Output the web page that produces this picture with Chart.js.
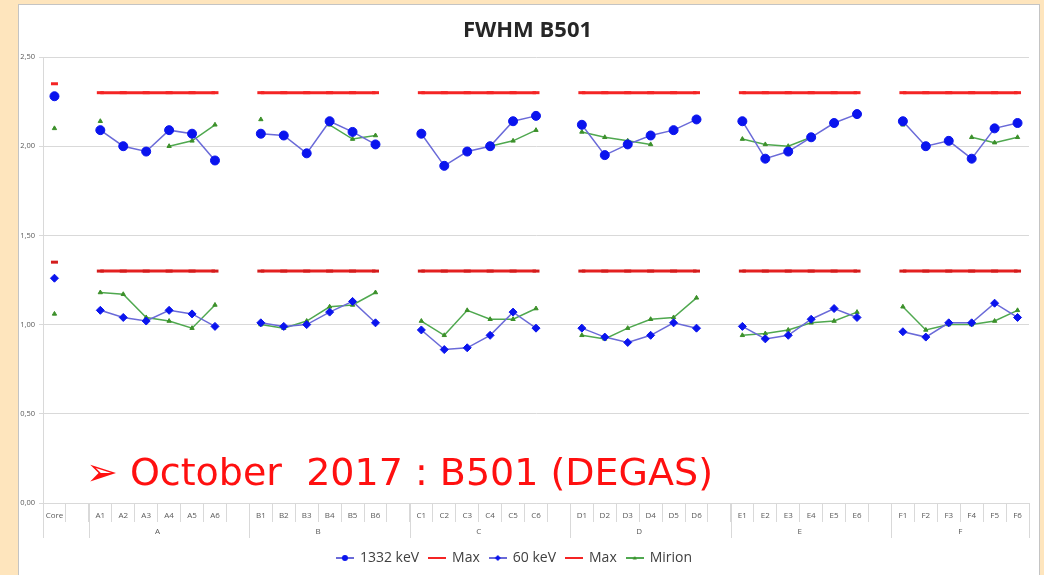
<!DOCTYPE html>
<html>
<head>
<meta charset="utf-8">
<script src="https://cdn.jsdelivr.net/npm/chart.js@4.4.1/dist/chart.umd.min.js"></script>
<style>
  html, body { margin: 0; padding: 0; }
  body { width: 1044px; height: 575px; background: #fee5bd; position: relative; overflow: hidden; font-family: "Open Sans", sans-serif; }
  #panel { position: absolute; left: 18px; top: 4px; width: 1022px; height: 590px; background: #fff; border: 1px solid #c4c4c4; box-sizing: border-box; }
  #chart { position: absolute; left: 0; top: 0; }
  #title { position: absolute; top: 13px; left: 0; width: 1055px; text-align: center; font-weight: bold; font-size: 22px; color: #262626; }
  #note { position: absolute; left: 86px; top: 450px; line-height: 44px; color: #ff1010; font-family: "DejaVu Sans", sans-serif; font-size: 38px; white-space: pre; }
</style>
</head>
<body>
<div id="panel"></div>
<canvas id="chart" width="1044" height="575"></canvas>
<div id="title">FWHM B501</div>
<div id="note">➢ October  2017 : B501 (DEGAS)</div>
<script>
// x categories (blank slots separate the groups)
const categories = ['Core', '',
  'A1', 'A2', 'A3', 'A4', 'A5', 'A6', '',
  'B1', 'B2', 'B3', 'B4', 'B5', 'B6', '',
  'C1', 'C2', 'C3', 'C4', 'C5', 'C6', '',
  'D1', 'D2', 'D3', 'D4', 'D5', 'D6', '',
  'E1', 'E2', 'E3', 'E4', 'E5', 'E6', '',
  'F1', 'F2', 'F3', 'F4', 'F5', 'F6'];
const groups = ['A', 'B', 'C', 'D', 'E', 'F'];
const yTicks = [0, 0.5, 1, 1.5, 2, 2.5];

const fwhm1332 = [2.28, null,
  2.09, 2.00, 1.97, 2.09, 2.07, 1.92, null,
  2.07, 2.06, 1.96, 2.14, 2.08, 2.01, null,
  2.07, 1.89, 1.97, 2.00, 2.14, 2.17, null,
  2.12, 1.95, 2.01, 2.06, 2.09, 2.15, null,
  2.14, 1.93, 1.97, 2.05, 2.13, 2.18, null,
  2.14, 2.00, 2.03, 1.93, 2.10, 2.13];
const max1332 = [2.35, null,
  2.30, 2.30, 2.30, 2.30, 2.30, 2.30, null,
  2.30, 2.30, 2.30, 2.30, 2.30, 2.30, null,
  2.30, 2.30, 2.30, 2.30, 2.30, 2.30, null,
  2.30, 2.30, 2.30, 2.30, 2.30, 2.30, null,
  2.30, 2.30, 2.30, 2.30, 2.30, 2.30, null,
  2.30, 2.30, 2.30, 2.30, 2.30, 2.30];
const fwhm60 = [1.26, null,
  1.08, 1.04, 1.02, 1.08, 1.06, 0.99, null,
  1.01, 0.99, 1.00, 1.07, 1.13, 1.01, null,
  0.97, 0.86, 0.87, 0.94, 1.07, 0.98, null,
  0.98, 0.93, 0.90, 0.94, 1.01, 0.98, null,
  0.99, 0.92, 0.94, 1.03, 1.09, 1.04, null,
  0.96, 0.93, 1.01, 1.01, 1.12, 1.04];
const max60 = [1.35, null,
  1.30, 1.30, 1.30, 1.30, 1.30, 1.30, null,
  1.30, 1.30, 1.30, 1.30, 1.30, 1.30, null,
  1.30, 1.30, 1.30, 1.30, 1.30, 1.30, null,
  1.30, 1.30, 1.30, 1.30, 1.30, 1.30, null,
  1.30, 1.30, 1.30, 1.30, 1.30, 1.30, null,
  1.30, 1.30, 1.30, 1.30, 1.30, 1.30];
const mirionHigh = [2.10, null,
  2.14, null, null, 2.00, 2.03, 2.12, null,
  2.15, null, null, 2.12, 2.04, 2.06, null,
  2.08, null, null, 2.00, 2.03, 2.09, null,
  2.08, 2.05, 2.03, 2.01, null, null, null,
  2.04, 2.01, 2.00, 2.05, null, null, null,
  2.12, null, null, 2.05, 2.02, 2.05];
const mirionLow = [1.06, null,
  1.18, 1.17, 1.04, 1.02, 0.98, 1.11, null,
  1.00, 0.98, 1.02, 1.10, 1.11, 1.18, null,
  1.02, 0.94, 1.08, 1.03, 1.03, 1.09, null,
  0.94, 0.92, 0.98, 1.03, 1.04, 1.15, null,
  0.94, 0.95, 0.97, 1.01, 1.02, 1.07, null,
  1.10, 0.97, 1.00, 1.00, 1.02, 1.08];

const BLUE = '#0a14ee', BLUE_LINE = '#6a6ad8', RED = '#f42424', GREEN = '#4fa84f', GREEN_PT = '#3c902a';

// small legend icons: line with the marker in the middle
function legendIcon(lineColor, marker, markerColor) {
  const c = document.createElement('canvas');
  c.width = 18; c.height = 12;
  const g = c.getContext('2d');
  g.strokeStyle = lineColor; g.lineWidth = 2;
  g.beginPath(); g.moveTo(0, 6); g.lineTo(18, 6); g.stroke();
  g.fillStyle = markerColor;
  if (marker === 'circle') { g.beginPath(); g.arc(9, 6, 3, 0, Math.PI * 2); g.fill(); }
  if (marker === 'diamond') { g.beginPath(); g.moveTo(9, 3); g.lineTo(12, 6); g.lineTo(9, 9); g.lineTo(6, 6); g.closePath(); g.fill(); }
  if (marker === 'triangle') { g.beginPath(); g.moveTo(9, 4); g.lineTo(11, 7.5); g.lineTo(7, 7.5); g.closePath(); g.fill(); }
  return c;
}
const icons = [
  legendIcon(BLUE_LINE, 'circle', BLUE),
  legendIcon(RED, null, RED),
  legendIcon(BLUE_LINE, 'diamond', BLUE),
  legendIcon(RED, null, RED),
  legendIcon(GREEN, 'triangle', GREEN_PT)
];

// second row of the x axis: group letters and their separators
const groupAxis = {
  id: 'groupAxis',
  afterDraw(chart) {
    const { ctx, scales: { x } } = chart;
    const step = x.getPixelForValue(1) - x.getPixelForValue(0);
    const top = x.top;
    ctx.save();
    ctx.strokeStyle = '#d9d9d9';
    ctx.lineWidth = 1;
    ctx.fillStyle = '#595959';
    ctx.font = '8px "Open Sans"';
    ctx.textAlign = 'center';
    ctx.textBaseline = 'middle';
    const bounds = [x.left];
    groups.forEach(g => {
      const idx = categories.map((c, i) => (c.length === 2 && c[0] === g) ? i : -1).filter(i => i >= 0);
      const first = idx[0], last = idx[idx.length - 1];
      bounds.push(x.getPixelForValue(first) - step / 2);
      ctx.fillText(g, (x.getPixelForValue(first) + x.getPixelForValue(last)) / 2, top + 29);
    });
    bounds.push(x.right);
    bounds.forEach(px => {
      const p = Math.round(px) + 0.5;
      ctx.beginPath(); ctx.moveTo(p, top); ctx.lineTo(p, top + 35); ctx.stroke();
    });
    ctx.restore();
  }
};

new Chart(document.getElementById('chart'), {
  type: 'line',
  data: {
    labels: categories,
    datasets: [
      { label: '1332 keV', data: fwhm1332, borderColor: BLUE_LINE, borderWidth: 1.5,
        pointStyle: 'circle', pointRadius: 4.5, pointBackgroundColor: BLUE, pointBorderColor: BLUE, pointBorderWidth: 1 },
      { label: 'Max', data: max1332, borderColor: RED, borderWidth: 3,
        pointStyle: 'line', pointRadius: 3.5, pointBorderColor: RED, pointBorderWidth: 3 },
      { label: '60 keV', data: fwhm60, borderColor: BLUE_LINE, borderWidth: 1.5,
        pointStyle: 'rectRot', pointRadius: 4, pointBackgroundColor: BLUE, pointBorderColor: BLUE, pointBorderWidth: 1 },
      { label: 'Max', data: max60, borderColor: '#e42020', borderWidth: 3,
        pointStyle: 'line', pointRadius: 3.5, pointBorderColor: '#d41c1c', pointBorderWidth: 3 },
      { label: 'Mirion', data: mirionHigh, borderColor: GREEN, borderWidth: 1.5,
        pointStyle: 'triangle', pointRadius: 2.5, pointBackgroundColor: GREEN_PT, pointBorderColor: GREEN_PT, pointBorderWidth: 1 },
      { label: 'Mirion', data: mirionLow, borderColor: GREEN, borderWidth: 1.5,
        pointStyle: 'triangle', pointRadius: 2.5, pointBackgroundColor: GREEN_PT, pointBorderColor: GREEN_PT, pointBorderWidth: 1 }
    ]
  },
  options: {
    responsive: false,
    animation: false,
    spanGaps: false,
    layout: { padding: { top: 57, right: 15, bottom: 0, left: 0 } },
    elements: { line: { tension: 0 } },
    scales: {
      x: {
        offset: true,
        grid: { display: true, drawOnChartArea: false, drawTicks: true, tickLength: 19, color: '#d9d9d9', offset: true },
        border: { display: true, color: '#d9d9d9' },
        ticks: { autoSkip: false, maxRotation: 0, padding: -11, color: '#595959', font: { family: 'Open Sans', size: 8 } },
        afterFit: s => { s.height = 38; }
      },
      y: {
        min: 0, max: 2.5,
        afterBuildTicks: s => { s.ticks = yTicks.map(v => ({ value: v })); },
        grid: { color: '#d9d9d9', tickLength: 4 },
        border: { display: true, color: '#d9d9d9' },
        ticks: { padding: 4, color: '#595959', font: { family: 'Open Sans', size: 7.5 },
          callback: v => v.toFixed(2).replace('.', ',') },
        afterFit: s => { s.width = 43; }
      }
    },
    plugins: {
      title: { display: false },
      tooltip: { enabled: false },
      legend: {
        position: 'bottom',
        labels: {
          usePointStyle: true,
          pointStyleWidth: 16,
          padding: 10,
          color: '#404040',
          font: { family: 'Open Sans', size: 14 },
          generateLabels: chart => chart.data.datasets
            .map((ds, i) => ({ text: ds.label, datasetIndex: i, pointStyle: icons[i],
              fillStyle: ds.borderColor, strokeStyle: ds.borderColor, lineWidth: 0, hidden: false, fontColor: '#404040' }))
            .filter(item => item.datasetIndex < 5)
        }
      }
    }
  },
  plugins: [groupAxis]
});
</script>
</body>
</html>
